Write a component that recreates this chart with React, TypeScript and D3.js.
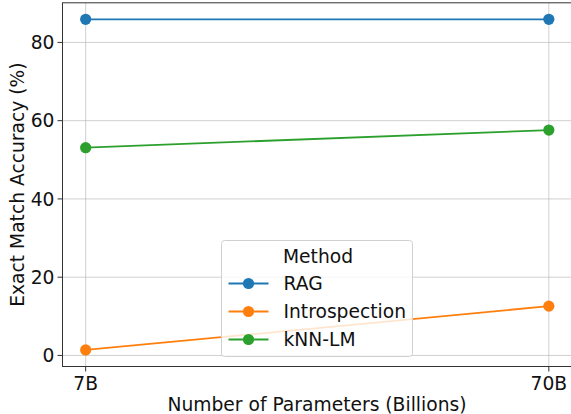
import React from "react";
import * as d3 from "d3";

const categories = ["7B", "70B"];
const methods = ["RAG", "Introspection", "kNN-LM"];
const colors = ["#1f77b4", "#ff7f0e", "#2ca02c"];
const ragValues = [85.9, 85.9];
const introspectionValues = [1.4, 12.6];
const knnValues = [53.1, 57.6];
const yTicks = [0, 20, 40, 60, 80];

const W = 571;
const H = 414;
const left = 62.5;
const right = 572;
const top = 2.8;
const bottom = 366.5;
const font = "DejaVu Sans, sans-serif";
const fs = 18.7;

export default function App() {
  const seriesValues = [ragValues, introspectionValues, knnValues];
  // matplotlib-style 5% margins on each side of the two points
  const xs = d3.scaleLinear().domain([-0.05, 1.05]).range([left, right]);
  const xPos = (c: string) => xs(categories.indexOf(c));
  const all = seriesValues.flat();
  const lo = d3.min(all)!;
  const hi = d3.max(all)!;
  const pad = (hi - lo) * 0.05;
  const y = d3.scaleLinear().domain([lo - pad, hi + pad]).range([bottom, top]);
  const line = d3
    .line<number>()
    .x((_, i) => xPos(categories[i]))
    .y((d) => y(d));

  const legX = 221.5;
  const legY = 240.5;
  const legW = 191;
  const legH = 116;

  return (
    <svg width={W} height={H} style={{ position: "absolute", left: 0, top: 0, background: "#fff" }}>
      <defs>
        <clipPath id="plot">
          <rect x={left} y={top} width={right - left} height={bottom - top} />
        </clipPath>
      </defs>
      {/* grid */}
      {yTicks.map((t) => (
        <line key={"gy" + t} x1={left} x2={right} y1={y(t)} y2={y(t)} stroke="#b0b0b0" strokeOpacity={0.6} strokeWidth={1} />
      ))}
      {categories.map((c) => (
        <line key={"gx" + c} x1={xPos(c)} x2={xPos(c)} y1={top} y2={bottom} stroke="#b0b0b0" strokeOpacity={0.6} strokeWidth={1} />
      ))}
      {/* series */}
      <g clipPath="url(#plot)">
        {seriesValues.map((vals, si) => (
          <g key={methods[si]}>
            <path d={line(vals) || ""} fill="none" stroke={colors[si]} strokeWidth={1.8} />
            {vals.map((v, i) => (
              <circle key={i} cx={xPos(categories[i])} cy={y(v)} r={5.6} fill={colors[si]} />
            ))}
          </g>
        ))}
      </g>
      {/* spines */}
      <rect x={left} y={top} width={right - left} height={bottom - top} fill="none" stroke="#333" strokeWidth={1} />
      {/* y ticks */}
      {yTicks.map((t) => (
        <g key={"yt" + t}>
          <line x1={left - 5} x2={left} y1={y(t)} y2={y(t)} stroke="#333" strokeWidth={1} />
          <text x={left - 8} y={y(t)} dy="0.36em" textAnchor="end" fontFamily={font} fontSize={fs} fill="#111">
            {t}
          </text>
        </g>
      ))}
      {/* x ticks */}
      {categories.map((c) => (
        <g key={"xt" + c}>
          <line x1={xPos(c)} x2={xPos(c)} y1={bottom} y2={bottom + 5} stroke="#333" strokeWidth={1} />
          <text x={xPos(c)} y={bottom + 23} textAnchor="middle" fontFamily={font} fontSize={fs} fill="#111">
            {c}
          </text>
        </g>
      ))}
      <text x={317} y={411} textAnchor="middle" fontFamily={font} fontSize={fs} fill="#111">
        Number of Parameters (Billions)
      </text>
      <text
        transform={`translate(24,${(top + bottom) / 2}) rotate(-90)`}
        textAnchor="middle"
        fontFamily={font}
        fontSize={fs}
        fill="#111"
      >
        Exact Match Accuracy (%)
      </text>
      {/* legend */}
      <g>
        <rect x={legX} y={legY} width={legW} height={legH} rx={3} fill="#fff" fillOpacity={0.8} stroke="#d0d0d0" strokeWidth={1} />
        <text x={legX + legW / 2 + 1} y={legY + 16} dy="0.36em" textAnchor="middle" fontFamily={font} fontSize={fs} fill="#111">
          Method
        </text>
        {methods.map((m, i) => {
          const cy = legY + 43 + i * 28;
          return (
            <g key={m}>
              <line x1={legX + 7} x2={legX + 47} y1={cy} y2={cy} stroke={colors[i]} strokeWidth={1.8} />
              <circle cx={legX + 27} cy={cy} r={5.6} fill={colors[i]} />
              <text x={legX + 62} y={cy} dy="0.36em" fontFamily={font} fontSize={fs} fill="#111">
                {m}
              </text>
            </g>
          );
        })}
      </g>
    </svg>
  );
}
